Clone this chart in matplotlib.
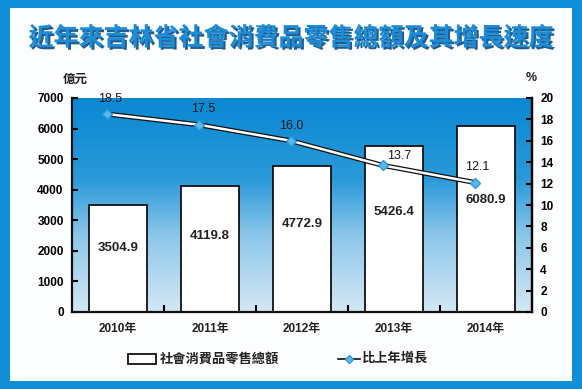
import numpy as np
import matplotlib
matplotlib.use('Agg')
import matplotlib.pyplot as plt
import matplotlib.patheffects as pe
from matplotlib.colors import LinearSegmentedColormap
from matplotlib.patches import Rectangle
from matplotlib.lines import Line2D

plt.rcParams['font.family'] = ['Liberation Sans', 'Noto Sans CJK TC', 'DejaVu Sans']

# data
years = ['2010年', '2011年', '2012年', '2013年', '2014年']
retail = [3504.9, 4119.8, 4772.9, 5426.4, 6080.9]
growth = [18.5, 17.5, 16.0, 13.7, 12.1]
left_ticks = [0, 1000, 2000, 3000, 4000, 5000, 6000, 7000]
right_ticks = [0, 2, 4, 6, 8, 10, 12, 14, 16, 18, 20]

title = '近年來吉林省社會消費品零售總額及其增長速度'
bar_name = '社會消費品零售總額'
line_name = '比上年增長'

fig = plt.figure(figsize=(5.82, 3.89), dpi=100, facecolor='#118fd6')
fig.add_artist(Rectangle((10/582, 8/389), 562/582, 373/389,
                         transform=fig.transFigure, facecolor='#fcfdfe',
                         edgecolor='none', zorder=0))

fig.text(0.5, 0.902, title, ha='center', va='center', fontsize=18,
         fontweight='bold', color='#1c8cd6',
         path_effects=[pe.SimplePatchShadow(offset=(1.5, -1.5),
                                            shadow_rgbFace='#0b4a80', alpha=0.9),
                       pe.Normal()])

ax = fig.add_axes([72/582, 77/389, 460/582, 214/389])
x = np.arange(len(years))

# background gradient
cmap = LinearSegmentedColormap.from_list('bg', [(0, '#d4e8f5'), (0.35, '#8ec7ea'),
                                                (0.62, '#2a9ad9'), (1, '#0a88d3')])
grad = np.linspace(0, 1, 256).reshape(-1, 1)
ax.imshow(grad, extent=[-0.5, 4.5, 0, 7000], origin='lower', aspect='auto',
          cmap=cmap, zorder=0)

ax.bar(x, retail, width=0.64, color='white', edgecolor='#111111', linewidth=1.3, zorder=2)
for xi, v in zip(x, retail):
    ax.text(xi, v * 0.6, f'{v:.1f}', ha='center', va='center', fontsize=9.5,
            fontweight='bold', color='#222222', zorder=4)

ax.set_xlim(-0.5, 4.5)
ax.set_ylim(0, 7000)
ax.set_yticks(left_ticks)
ax.set_xticks(x)
ax.set_xticklabels(years, fontsize=8.5, fontweight='bold', color='#222222')
ax.set_xticks(x[:-1] + 0.5, minor=True)
ax.tick_params(axis='x', which='major', length=0, pad=8)
ax.tick_params(axis='x', which='minor', direction='in', length=5, width=1.5)
ax.tick_params(axis='y', direction='in', length=4, width=1.5, labelsize=8.5, pad=6)
for lab in ax.get_yticklabels():
    lab.set_fontweight('bold')
ax.spines['top'].set_visible(False)
for s in ['left', 'bottom', 'right']:
    ax.spines[s].set_linewidth(1.6)
    ax.spines[s].set_color('#111111')

ax2 = ax.twinx()
ax2.set_ylim(0, 20)
ax2.set_yticks(right_ticks)
ax2.tick_params(axis='y', direction='in', length=4, width=1.5, labelsize=8.5, pad=6)
for lab in ax2.get_yticklabels():
    lab.set_fontweight('bold')
for s in ['top', 'left', 'bottom']:
    ax2.spines[s].set_visible(False)
ax2.spines['right'].set_linewidth(1.6)

lx = x - 0.12
ax2.plot(lx, growth, color='#111111', linewidth=3.6, zorder=3, solid_capstyle='round')
ax2.plot(lx, growth, color='white', linewidth=1.8, zorder=3, marker='D', markersize=5,
         markerfacecolor='#5ab8ea', markeredgecolor='#2b98d8', solid_capstyle='round')
offsets = [(2, 11), (3, 11), (0, 11), (12, 7), (2, 11)]
for xi, g, off in zip(lx, growth, offsets):
    ax2.annotate(f'{g:.1f}', (xi, g), xytext=off, textcoords='offset points',
                 ha='center', va='center', fontsize=9, color='#1a1a1a', zorder=4)

fig.text(75/582, 1 - 80/389, '億元', ha='center', va='center', fontsize=9,
         fontweight='bold', color='#222222')
fig.text(531/582, 1 - 78/389, '%', ha='center', va='center', fontsize=9,
         fontweight='bold', color='#222222')

# legend
fig.add_artist(Rectangle((128/582, 1 - 364/389), 28/582, 10/389, transform=fig.transFigure,
                         facecolor='white', edgecolor='#111111', linewidth=1.3))
fig.text(160/582, 1 - 359/389, bar_name, ha='left', va='center', fontsize=9.5,
         fontweight='bold', color='#222222')
fig.add_artist(Line2D([338/582, 360/582], [1 - 359/389] * 2, transform=fig.transFigure,
                      color='#111111', linewidth=1.2, marker='D', markersize=3.5,
                      markevery=[], zorder=5))
fig.add_artist(Line2D([349/582], [1 - 359/389], transform=fig.transFigure,
                      marker='D', markersize=4, markerfacecolor='#5ab8ea',
                      markeredgecolor='#2b98d8', linestyle='none', zorder=6))
fig.text(362/582, 1 - 359/389, line_name, ha='left', va='center', fontsize=9.5,
         fontweight='bold', color='#222222')

fig.savefig('out.png', dpi=100, facecolor=fig.get_facecolor())
